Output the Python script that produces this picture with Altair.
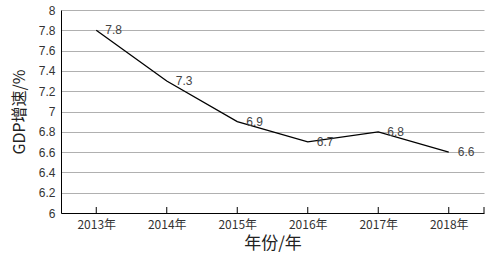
import altair as alt
import pandas as pd

years = ["2013年", "2014年", "2015年", "2016年", "2017年", "2018年"]
growth = [7.8, 7.3, 6.9, 6.7, 6.8, 6.6]
y_ticks = [6, 6.2, 6.4, 6.6, 6.8, 7, 7.2, 7.4, 7.6, 7.8, 8]

df = pd.DataFrame({"year": years, "gdp": growth})

x = alt.X("year:N", sort=years, title="年份/年",
          scale=alt.Scale(type="point", padding=0.5),
          axis=alt.Axis(labelAngle=0, domainColor="black", ticks=False,
                        labelFontSize=12, labelColor="#333",
                        labelFont="Noto Sans CJK SC", titleFont="Noto Sans CJK SC",
                        titleFontSize=17, titleFontWeight="normal", titleColor="#222",
                        titlePadding=5, labelPadding=6, grid=False))
y = alt.Y("gdp:Q", title="GDP增速/%",
          scale=alt.Scale(domain=[6, 8], nice=False, zero=False),
          axis=alt.Axis(values=y_ticks, format=".1~f", domainColor="black",
                        ticks=False, labelFontSize=12, labelColor="#333",
                        labelFont="Liberation Sans", titleFont="Noto Sans CJK SC",
                        titleFontSize=16, titleFontWeight="normal", titleColor="#222",
                        titlePadding=11, labelPadding=6,
                        grid=True, gridColor="#b0b0b0", gridWidth=1))

line = alt.Chart(df).mark_line(color="black", strokeWidth=1.3).encode(x=x, y=y)
labels = alt.Chart(df).mark_text(align="left", baseline="middle", dx=9, dy=0,
                                 fontSize=12, color="#444",
                                 font="Liberation Sans").encode(
    x=x, y=y, text=alt.Text("gdp:Q", format=".1f"))
ticks = alt.Chart(df).mark_rule(color="black", strokeWidth=1).encode(
    x=alt.X("year:N", sort=years, scale=alt.Scale(type="point", padding=0.5)),
    y=alt.value(203), y2=alt.value(197))
end_tick = alt.Chart(df.head(1)).mark_rule(color="black", strokeWidth=1).encode(
    x=alt.value(423), y=alt.value(203), y2=alt.value(197))

chart = (line + labels + ticks + end_tick).properties(
    width=423, height=203,
    autosize=alt.AutoSizeParams(type="none"),
    padding={"left": 61, "top": 10, "right": 16, "bottom": 51},
    background="white",
).configure_view(stroke=None)

chart.save("out.html", embed_options={"renderer": "svg", "actions": False})
